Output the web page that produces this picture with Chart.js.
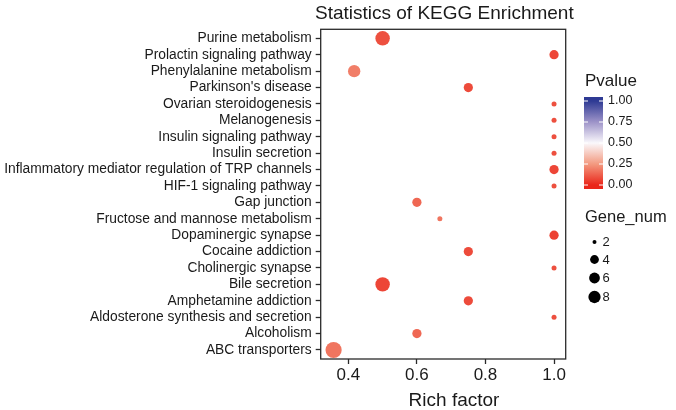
<!DOCTYPE html>
<html>
<head>
<meta charset="utf-8">
<script src="https://cdn.jsdelivr.net/npm/chart.js@4"></script>
<style>
  html, body { margin: 0; padding: 0; background: #fff; }
  #wrap { width: 676px; height: 410px; position: relative; }
</style>
</head>
<body>
<div id="wrap"><canvas id="c" width="676" height="410"></canvas></div>
<script>
// pathways, top to bottom
const pathways = [
  'Purine metabolism',
  'Prolactin signaling pathway',
  'Phenylalanine metabolism',
  "Parkinson's disease",
  'Ovarian steroidogenesis',
  'Melanogenesis',
  'Insulin signaling pathway',
  'Insulin secretion',
  'Inflammatory mediator regulation of TRP channels',
  'HIF-1 signaling pathway',
  'Gap junction',
  'Fructose and mannose metabolism',
  'Dopaminergic synapse',
  'Cocaine addiction',
  'Cholinergic synapse',
  'Bile secretion',
  'Amphetamine addiction',
  'Aldosterone synthesis and secretion',
  'Alcoholism',
  'ABC transporters'
];
const richFactor = [0.5, 1.0, 0.417, 0.75, 1.0, 1.0, 1.0, 1.0, 1.0, 1.0,
                    0.6, 0.667, 1.0, 0.75, 1.0, 0.5, 0.75, 1.0, 0.6, 0.357];
const geneNum = [7, 3, 5, 3, 2, 2, 2, 2, 3, 2,
                 3, 2, 3, 3, 2, 7, 3, 2, 3, 9];
const pValue = [0.09, 0.07, 0.19, 0.08, 0.09, 0.09, 0.09, 0.09, 0.07, 0.09,
                0.14, 0.17, 0.06, 0.08, 0.09, 0.07, 0.08, 0.09, 0.14, 0.17];

const xTicks = [0.4, 0.6, 0.8, 1.0];
const pTicks = [1.00, 0.75, 0.50, 0.25, 0.00];
const geneBreaks = [2, 4, 6, 8];

// colour scale (red - white - blue)
const colStops = [
  [0.00, [234, 38, 26]],
  [0.25, [243, 154, 128]],
  [0.50, [250, 248, 252]],
  [0.75, [157, 147, 200]],
  [1.00, [46, 58, 148]]
];
function pColor(p) {
  for (let i = 1; i < colStops.length; i++) {
    const [p1, c1] = colStops[i];
    const [p0, c0] = colStops[i - 1];
    if (p <= p1) {
      const t = (p - p0) / (p1 - p0);
      const c = c0.map((v, k) => Math.round(v + (c1[k] - v) * t));
      return `rgb(${c[0]},${c[1]},${c[2]})`;
    }
  }
  return 'rgb(46,58,148)';
}
const gMin = 2, gMax = 9;
function radius(g) {
  return 2.5 + 5.6 * Math.sqrt((g - gMin) / (gMax - gMin));
}

const FONT = '"Liberation Sans", Arial, Helvetica, sans-serif';
const TXT = '#1a1a1a';

const points = pathways.map((name, i) => ({ x: richFactor[i], y: i, r: radius(geneNum[i]) }));

const decor = {
  id: 'decor',
  afterDraw(chart) {
    const ctx = chart.ctx;
    const a = chart.chartArea;
    ctx.save();
    // panel border
    ctx.strokeStyle = '#2a2a2a';
    ctx.lineWidth = 1.3;
    ctx.strokeRect(a.left, a.top, a.right - a.left, a.bottom - a.top);

    ctx.fillStyle = TXT;
    ctx.textBaseline = 'alphabetic';
    // title
    ctx.font = '19px ' + FONT;
    ctx.textAlign = 'left';
    ctx.fillText('Statistics of KEGG Enrichment', 315, 18.5);
    // x axis title
    ctx.font = '19px ' + FONT;
    ctx.textAlign = 'center';
    ctx.fillText('Rich factor', 454, 406);

    // Pvalue legend
    ctx.textAlign = 'left';
    ctx.font = '17px ' + FONT;
    ctx.fillText('Pvalue', 585, 86);
    const bx = 584, bw = 19, y1 = 101, y0 = 185, bTop = 97, bBot = 189;
    const grad = ctx.createLinearGradient(0, y0, 0, y1);
    colStops.forEach(([p, c]) => grad.addColorStop(p, `rgb(${c[0]},${c[1]},${c[2]})`));
    ctx.fillStyle = pColor(0);
    ctx.fillRect(bx, y0, bw, bBot - y0);
    ctx.fillStyle = pColor(1);
    ctx.fillRect(bx, bTop, bw, y1 - bTop);
    ctx.fillStyle = grad;
    ctx.fillRect(bx, y1, bw, y0 - y1);
    ctx.font = '12.5px ' + FONT;
    ctx.textBaseline = 'middle';
    pTicks.forEach(p => {
      const y = y0 + (y1 - y0) * p;
      ctx.strokeStyle = '#fff';
      ctx.lineWidth = 1;
      ctx.beginPath();
      ctx.moveTo(bx, y); ctx.lineTo(bx + 4, y);
      ctx.moveTo(bx + bw - 4, y); ctx.lineTo(bx + bw, y);
      ctx.stroke();
      ctx.fillStyle = TXT;
      ctx.fillText(p.toFixed(2), 608, y);
    });

    // Gene_num legend
    ctx.textBaseline = 'alphabetic';
    ctx.font = '16.5px ' + FONT;
    ctx.fillText('Gene_num', 585, 222);
    ctx.font = '13px ' + FONT;
    ctx.textBaseline = 'middle';
    const ly = [242, 259.5, 278, 297];
    geneBreaks.forEach((g, i) => {
      ctx.fillStyle = '#000';
      ctx.beginPath();
      ctx.arc(594.5, ly[i], radius(g) * 0.8, 0, Math.PI * 2);
      ctx.fill();
      ctx.fillStyle = TXT;
      ctx.fillText(String(g), 602.5, ly[i] + 0.5);
    });
    ctx.restore();
  }
};

new Chart(document.getElementById('c'), {
  type: 'bubble',
  data: {
    datasets: [{
      data: points,
      backgroundColor: pValue.map(pColor),
      borderWidth: 0,
      hoverBorderWidth: 0
    }]
  },
  options: {
    responsive: false,
    animation: false,
    events: [],
    layout: { padding: { left: 0, top: 29.3, right: 110.3, bottom: 0 } },
    plugins: { legend: { display: false }, tooltip: { enabled: false } },
    scales: {
      x: {
        type: 'linear',
        min: 0.3194,
        max: 1.034,
        afterBuildTicks: s => { s.ticks = xTicks.map(v => ({ value: v })); },
        afterFit: s => { s.height = 51; },
        grid: { drawOnChartArea: false, drawTicks: true, tickLength: 5, color: '#2a2a2a', tickWidth: 1.3 },
        border: { display: false },
        ticks: {
          color: TXT, padding: 1,
          font: { family: FONT, size: 17 },
          callback: v => Number(v).toFixed(1)
        }
      },
      y: {
        type: 'linear',
        reverse: true,
        min: -0.55,
        max: 19.55,
        afterBuildTicks: s => { s.ticks = pathways.map((_, i) => ({ value: i })); },
        afterFit: s => { s.width = 320.7; },
        grid: { drawOnChartArea: false, drawTicks: true, tickLength: 5, color: '#2a2a2a', tickWidth: 1.3 },
        border: { display: false },
        ticks: {
          color: TXT, padding: 4,
          font: { family: FONT, size: 13.8 },
          autoSkip: false,
          callback: v => pathways[v]
        }
      }
    }
  },
  plugins: [decor]
});
</script>
</body>
</html>
